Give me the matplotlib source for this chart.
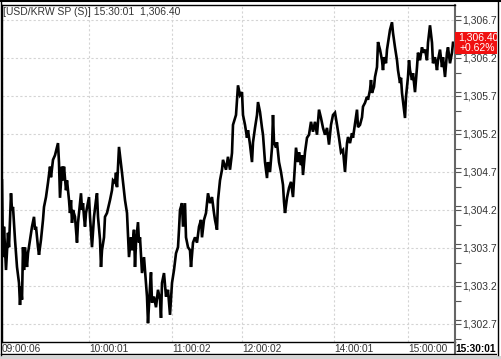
import matplotlib.pyplot as plt
from matplotlib.patches import Rectangle
from matplotlib.ticker import MultipleLocator, FuncFormatter

# tick index (x) and price
idx = [0, 1, 2, 4, 6, 7, 9, 10, 11, 13, 15, 17, 18, 19, 20, 21, 22, 23, 25, 26,
       28, 30, 32, 33, 34, 36, 37, 39, 41, 42, 44, 46, 48, 49, 51, 53, 56, 57, 58, 60,
       61, 62, 64, 65, 67, 68, 69, 70, 71, 73, 75, 76, 79, 80, 81, 82, 83, 84, 87, 88,
       90, 92, 94, 95, 96, 98, 99, 100, 102, 103, 105, 108, 110, 111, 113, 114, 115, 117, 120, 123,
       125, 127, 129, 130, 132, 133, 134, 136, 137, 138, 140, 142, 143, 145, 146, 148, 149, 150, 152, 154,
       156, 158, 159, 160, 162, 164, 166, 168, 170, 172, 174, 176, 177, 178, 180, 181, 183, 184, 186, 188,
       189, 191, 193, 195, 197, 199, 200, 202, 204, 206, 208, 210, 212, 213, 215, 216, 218, 220, 221, 224,
       226, 228, 230, 231, 234, 236, 238, 240, 241, 243, 245, 246, 248, 250, 251, 253, 255, 256, 258, 260,
       261, 263, 265, 266, 268, 270, 271, 272, 274, 275, 277, 279, 281, 282, 283, 285, 287, 289, 291, 293,
       294, 296, 297, 299, 300, 301, 303, 305, 307, 309, 311, 313, 315, 317, 319, 321, 323, 325, 327, 329,
       331, 333, 335, 337, 339, 341, 343, 345, 346, 348, 350, 351, 353, 355, 356, 358, 360, 361, 363, 365,
       366, 368, 369, 370, 372, 373, 375, 376, 378, 380, 381, 382, 384, 385, 387, 388, 390, 391, 393, 395,
       396, 398, 399, 400, 402, 403, 404, 406, 407, 408, 410, 411, 413, 415, 416, 418, 420, 421, 423, 425,
       426, 428, 430, 431, 433, 435, 436, 438, 440, 441, 443, 445, 446, 448, 450, 451, 453]
price = [1304.59, 1303.58, 1303.98, 1303.41, 1303.90, 1303.71, 1304.42, 1304.20, 1304.24, 1303.81,
         1303.45, 1303.24, 1302.95, 1303.19, 1303.02, 1303.71, 1303.41, 1303.71, 1303.45, 1303.63,
         1303.81, 1303.98, 1304.11, 1303.94, 1303.98, 1303.71, 1303.61, 1303.81, 1304.07, 1304.24,
         1304.37, 1304.56, 1304.77, 1304.63, 1304.86, 1304.92, 1305.08, 1304.82, 1304.36, 1304.77,
         1304.59, 1304.77, 1304.46, 1304.59, 1304.33, 1304.16, 1304.33, 1304.03, 1304.20, 1304.11,
         1303.77, 1304.03, 1304.42, 1304.20, 1304.29, 1304.11, 1303.98, 1304.16, 1304.37, 1304.11,
         1303.71, 1304.11, 1304.33, 1304.42, 1304.11, 1303.81, 1303.45, 1303.67, 1303.84, 1304.11,
         1304.16, 1304.33, 1304.46, 1304.59, 1304.56, 1304.69, 1304.50, 1305.03, 1304.69, 1304.33,
         1304.16, 1303.58, 1303.84, 1303.67, 1303.94, 1303.45, 1303.77, 1304.04, 1303.77, 1303.84,
         1303.37, 1303.58, 1303.41, 1303.06, 1302.71, 1303.19, 1303.38, 1302.98, 1303.06, 1302.92,
         1303.15, 1303.02, 1302.78, 1303.24, 1303.37, 1303.06, 1303.15, 1302.82, 1303.24, 1303.41,
         1303.63, 1303.71, 1303.94, 1304.20, 1304.29, 1303.98, 1304.29, 1303.84, 1303.71, 1303.67,
         1303.45, 1303.77, 1303.84, 1303.77, 1303.98, 1304.07, 1303.84, 1304.07, 1304.16, 1304.42,
         1304.29, 1304.37, 1304.16, 1304.07, 1303.94, 1304.33, 1304.59, 1304.73, 1304.86, 1304.73,
         1304.90, 1304.73, 1304.95, 1305.32, 1305.45, 1305.84, 1305.71, 1305.75, 1305.45, 1305.32,
         1305.15, 1305.25, 1305.06, 1304.83, 1305.09, 1305.28, 1305.45, 1305.62, 1305.49, 1305.28,
         1305.19, 1304.83, 1304.62, 1304.83, 1304.70, 1305.02, 1305.45, 1305.09, 1305.02, 1305.09,
         1304.83, 1304.70, 1304.53, 1304.31, 1304.16, 1304.36, 1304.49, 1304.57, 1304.37, 1304.79,
         1305.02, 1304.83, 1304.96, 1304.79, 1304.92, 1304.66, 1304.96, 1305.15, 1305.19, 1305.36,
         1305.23, 1305.36, 1305.19, 1305.52, 1305.41, 1305.28, 1305.19, 1305.28, 1305.06, 1305.32,
         1305.45, 1305.48, 1305.32, 1305.15, 1304.96, 1304.99, 1304.70, 1305.08, 1305.16, 1305.08,
         1305.21, 1305.15, 1305.34, 1305.52, 1305.29, 1305.32, 1305.42, 1305.56, 1305.61, 1305.69,
         1305.65, 1305.78, 1305.91, 1305.74, 1305.82, 1305.95, 1306.08, 1306.41, 1306.31, 1306.17,
         1306.04, 1306.21, 1306.13, 1306.31, 1306.48, 1306.57, 1306.67, 1306.53, 1306.34, 1306.17,
         1306.04, 1305.87, 1305.94, 1305.74, 1305.52, 1305.41, 1305.69, 1305.95, 1306.17, 1306.04,
         1305.91, 1306.00, 1305.75, 1306.08, 1306.27, 1306.17, 1306.34, 1306.27, 1306.31, 1306.17,
         1306.40, 1306.63, 1306.40, 1306.13, 1306.21, 1306.04, 1306.17, 1306.31, 1306.08, 1306.21,
         1305.95, 1306.27, 1306.34, 1306.13, 1306.27, 1306.40, 1306.40]

time_pos = [0, 87, 170, 240, 332, 406, 453]
time_lab = ['09:00:06', '10:00:01', '11:00:02', '12:00:02', '14:00:01', '15:00:00', '15:30:01']

title = '[USD/KRW SP (S)] 15:30:01  1,306.40'
last_px = '1,306.40'
last_chg = '+0.62%'

W, H = 501, 359
def fx(x):  # pixel -> figure fraction
    return x / W
def fy(y):
    return 1 - y / H

plt.rcParams['font.family'] = ['Liberation Sans', 'DejaVu Sans']

fig = plt.figure(figsize=(W / 100, H / 100), dpi=100)
fig.patch.set_facecolor('white')

ax = fig.add_axes([fx(2), fy(342), fx(455) - fx(2), fy(5) - fy(342)])
ax.plot(idx, price, color='black', lw=1.9, solid_joinstyle='miter')

ax.set_xlim(0, 453)
ax.set_ylim(1302.463, 1306.897)

ax.yaxis.tick_right()
ax.yaxis.set_major_locator(MultipleLocator(0.5))
ax.yaxis.set_minor_locator(MultipleLocator(0.25))
ax.yaxis.set_major_formatter(FuncFormatter(lambda v, p: '{:,.2f}'.format(v)))
ax.tick_params(axis='y', which='both', direction='out', length=4, width=0.8,
               color='#555555', labelsize=7.5, labelcolor='#333333', pad=1)
ax.set_yticks([1302.7 + 0.5 * k for k in range(9)])

ax.set_xticks(time_pos)
ax.set_xticklabels(time_lab)
ax.tick_params(axis='x', length=0, labelsize=7.3, labelcolor='#333333', pad=1.5)
for t in ax.get_xticklabels():
    t.set_ha('left')
ax.get_xticklabels()[-1].set_fontweight('bold')
ax.get_xticklabels()[-1].set_color('black')

ax.grid(True, which='major', color='#d4d4d4', lw=0.8, ls=(0, (2, 2)))
ax.set_axisbelow(True)

for s in ['left', 'top', 'bottom']:
    ax.spines[s].set_color('black')
    ax.spines[s].set_linewidth(1)
ax.spines['right'].set_color('#666666')
ax.spines['right'].set_linewidth(1.5)

# title text
fig.text(fx(3), fy(12), title, fontsize=7.5, color='#333333', va='center', ha='left')

# last price box
fig.patches.append(Rectangle((fx(455), fy(54)), fx(497) - fx(455), fy(32) - fy(54),
                             transform=fig.transFigure, facecolor='#f01010', edgecolor='none',
                             zorder=5))
fig.text(fx(458), fy(38), last_px, fontsize=7.5, color='white', va='center', ha='left', zorder=6)
fig.text(fx(460), fy(48), last_chg, fontsize=7.5, color='white', va='center', ha='left', zorder=6)

# time strip, y axis extension and outer frame
fig.add_artist(plt.Line2D([fx(455), fx(455)], [fy(342), fy(354)], transform=fig.transFigure,
                          color='#666666', lw=1.5))
fig.add_artist(plt.Line2D([fx(1), fx(497)], [fy(354), fy(354)], transform=fig.transFigure,
                          color='black', lw=1))
fig.add_artist(Rectangle((fx(497), 0), 1 - fx(497), 1, transform=fig.transFigure,
                         facecolor='white', edgecolor='none', zorder=10))
fig.add_artist(plt.Line2D([fx(497.5), fx(497.5)], [fy(0), fy(355)], transform=fig.transFigure,
                          color='black', lw=1, zorder=11))
fig.add_artist(plt.Line2D([fx(1), fx(1)], [fy(0), fy(355)], transform=fig.transFigure,
                          color='black', lw=1, zorder=11))
fig.add_artist(plt.Line2D([0, 1], [fy(0.8), fy(0.8)], transform=fig.transFigure,
                          color='black', lw=1.5, zorder=11))
fig.add_artist(Rectangle((0, 0), 1, fy(355.5), transform=fig.transFigure,
                         facecolor='#d4d4d4', edgecolor='none', zorder=10))

fig.savefig('out.png', dpi=100)
